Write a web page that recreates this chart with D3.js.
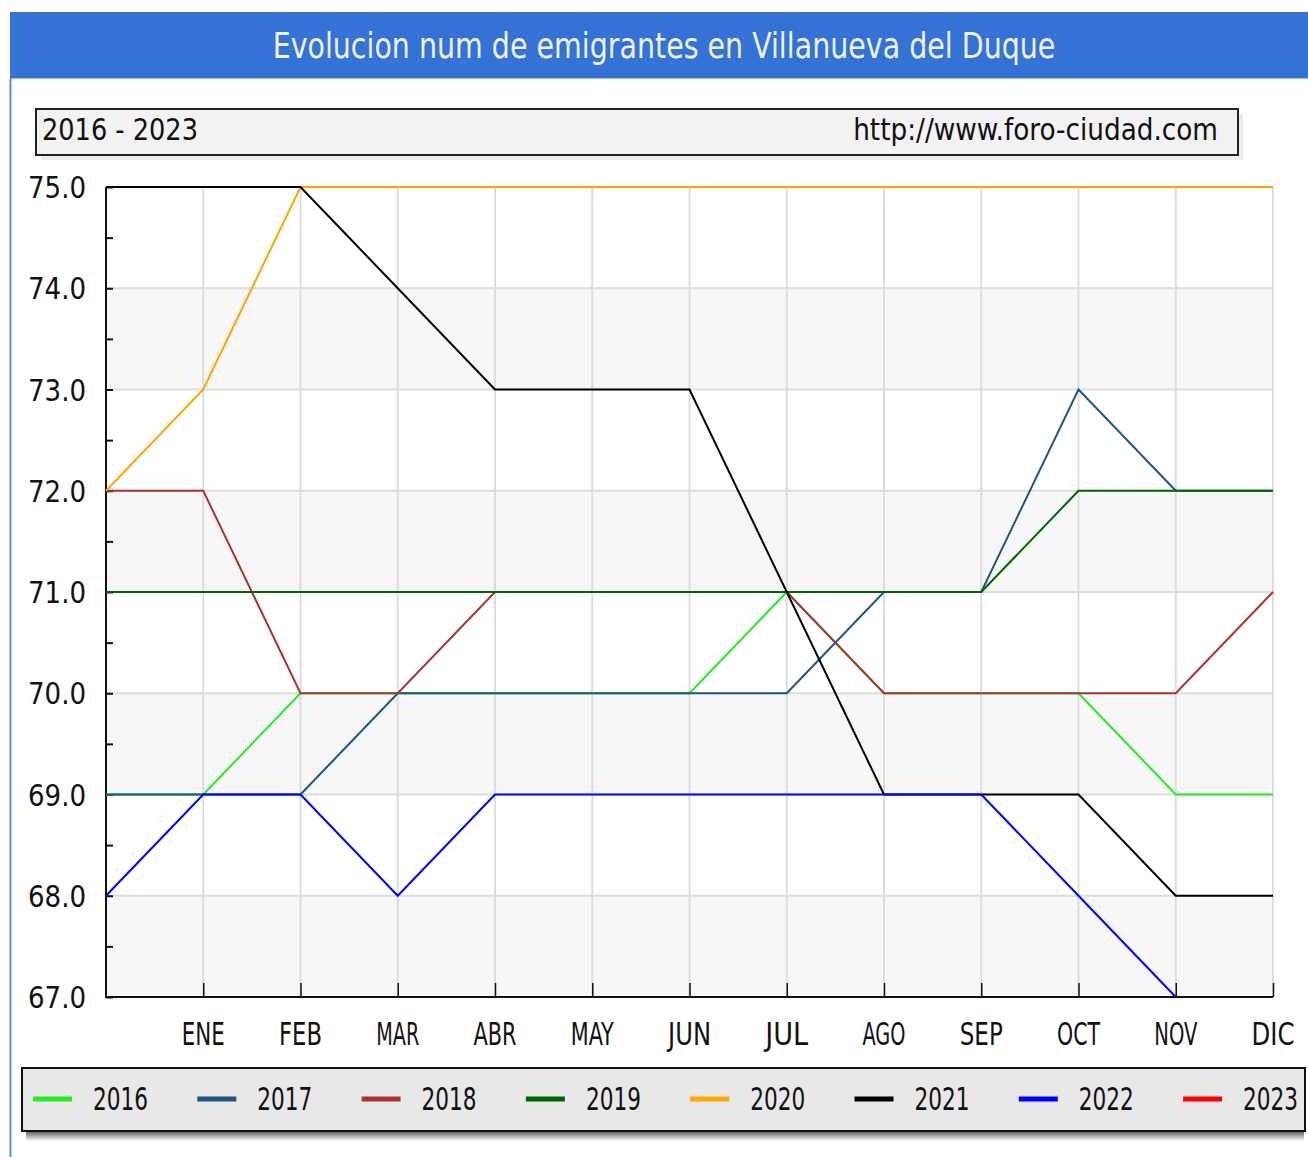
<!DOCTYPE html>
<html>
<head>
<meta charset="utf-8">
<script src="https://cdn.jsdelivr.net/npm/d3@7.9.0/dist/d3.min.js"></script>
<style>
  body { margin: 0; background: #fff; }
  svg { display: block; }
</style>
</head>
<body>
<div id="chart"></div>
<script>
const months = ["", "ENE", "FEB", "MAR", "ABR", "MAY", "JUN", "JUL", "AGO", "SEP", "OCT", "NOV", "DIC"];
const years = ["2016", "2017", "2018", "2019", "2020", "2021", "2022", "2023"];
const colors = ["#22ee22", "#1f557f", "#aa3333", "#006600", "#ffa500", "#000000", "#0000ff", "#ff0000"];

const v2016 = [69, 69, 70, 70, 70, 70, 70, 71, 70, 70, 70, 69, 69];
const v2017 = [69, 69, 69, 70, 70, 70, 70, 70, 71, 71, 73, 72, 72];
const v2018 = [72, 72, 70, 70, 71, 71, 71, 71, 70, 70, 70, 70, 71];
const v2019 = [71, 71, 71, 71, 71, 71, 71, 71, 71, 71, 72, 72, 72];
const v2020 = [72, 73, 75, 75, 75, 75, 75, 75, 75, 75, 75, 75, 75];
const v2021 = [75, 75, 75, 74, 73, 73, 73, 71, 69, 69, 69, 68, 68];
const v2022 = [68, 69, 69, 68, 69, 69, 69, 69, 69, 69, 68, 67];
const v2023 = [];
const series = [v2016, v2017, v2018, v2019, v2020, v2021, v2022, v2023];

const yTicks = [67, 68, 69, 70, 71, 72, 73, 74, 75];

const width = 1308, height = 1157;
const plot = { left: 106, right: 1273, top: 187, bottom: 997 };
const sans = "'DejaVu Sans Condensed', 'DejaVu Sans', sans-serif";

const svg = d3.select("#chart").append("svg")
  .attr("width", width).attr("height", height);

// squeeze text horizontally to a measured width, keeps the tall narrow look of the original
function label(g, txt, x, y, size, len, anchor = "start", fill = "#111") {
  const t = g.append("text")
    .attr("font-family", sans).attr("font-size", size)
    .attr("text-anchor", anchor).attr("fill", fill)
    .text(txt);
  const natural = t.node().getComputedTextLength();
  t.attr("transform", `translate(${x},${y}) scale(${len / natural},1)`);
  return t;
}

// title bar
svg.append("rect").attr("x", 10).attr("y", 12).attr("width", 1298).attr("height", 66).attr("fill", "#3572d6");
svg.append("line").attr("x1", 10).attr("x2", 1308).attr("y1", 78.5).attr("y2", 78.5).attr("stroke", "#9dbbe8");
svg.append("line").attr("x1", 10.5).attr("x2", 10.5).attr("y1", 78).attr("y2", height).attr("stroke", "#5d8ee0").attr("stroke-width", 2);
label(svg, "Evolucion num de emigrantes en Villanueva del Duque", 664, 58, 36, 783, "middle", "#eef3fc");

// subtitle box
svg.append("rect").attr("x", 41).attr("y", 114).attr("width", 1202).attr("height", 46).attr("fill", "#ececec");
svg.append("rect").attr("x", 36).attr("y", 109).attr("width", 1202).attr("height", 46)
  .attr("fill", "#f2f2f2").attr("stroke", "#222").attr("stroke-width", 2);
label(svg, "2016 - 2023", 42, 140, 30, 156);
label(svg, "http://www.foro-ciudad.com", 1218, 140, 30, 365, "end");

const x = d3.scaleLinear().domain([0, 12]).range([plot.left, plot.right]);
const y = d3.scaleLinear().domain([67, 75]).range([plot.bottom, plot.top]);

// alternating bands
const bands = svg.append("g");
for (let i = 0; i < yTicks.length - 1; i++) {
  bands.append("rect")
    .attr("x", plot.left).attr("width", plot.right - plot.left)
    .attr("y", y(yTicks[i + 1])).attr("height", y(yTicks[i]) - y(yTicks[i + 1]))
    .attr("fill", i % 2 === 0 ? "#f7f7f7" : "#ffffff");
}

// grid
const grid = svg.append("g").attr("stroke", "#dddddd").attr("stroke-width", 2);
grid.selectAll(".h").data(yTicks.slice(1, -1)).join("line")
  .attr("x1", plot.left).attr("x2", plot.right)
  .attr("y1", (d) => y(d)).attr("y2", (d) => y(d));
grid.selectAll(".v").data(d3.range(1, 13)).join("line")
  .attr("x1", (d) => x(d)).attr("x2", (d) => x(d))
  .attr("y1", plot.top).attr("y2", plot.bottom);

// axes
const yAxis = d3.axisLeft(y).tickValues(yTicks).tickSize(-7).tickFormat("");
const yMinor = d3.axisLeft(y).tickValues(d3.range(67.5, 75, 1)).tickSize(-7).tickFormat("");
const xAxis = d3.axisBottom(x).tickValues(d3.range(1, 13)).tickSize(-14).tickFormat("");

svg.append("g").attr("transform", `translate(${plot.left},0)`).call(yAxis)
  .call((g) => g.select(".domain").remove())
  .selectAll("line").attr("stroke", "#111").attr("stroke-width", 2);
svg.append("g").attr("transform", `translate(${plot.left},0)`).call(yMinor)
  .call((g) => g.select(".domain").remove())
  .selectAll("line").attr("stroke", "#111").attr("stroke-width", 2);
svg.append("g").attr("transform", `translate(0,${plot.bottom})`).call(xAxis)
  .call((g) => g.select(".domain").remove())
  .selectAll("line").attr("stroke", "#111").attr("stroke-width", 1.5);

// axis frame (left and bottom only)
svg.append("path")
  .attr("d", `M${plot.left},${plot.top}V${plot.bottom}H${plot.right}`)
  .attr("fill", "none").attr("stroke", "#111").attr("stroke-width", 2);

// series lines
const line = d3.line().x((d, i) => x(i)).y((d) => y(d));
svg.append("g").selectAll("path").data(series).join("path")
  .attr("d", (d) => (d.length ? line(d) : null))
  .attr("fill", "none")
  .attr("stroke", (d, i) => colors[i])
  .attr("stroke-width", 2);

// tick labels
const yl = svg.append("g");
yTicks.forEach((t) => label(yl, d3.format(".1f")(t), 86, y(t) + 11, 30, 58, "end"));
const xl = svg.append("g");
months.forEach((m, i) => { if (m) label(xl, m, x(i), 1045, 32, 43, "middle"); });

// legend
const grad = svg.append("defs").append("linearGradient").attr("id", "shadow")
  .attr("x1", 0).attr("x2", 0).attr("y1", 0).attr("y2", 1);
grad.append("stop").attr("offset", 0).attr("stop-color", "#555");
grad.append("stop").attr("offset", 1).attr("stop-color", "#fff");
svg.append("rect").attr("x", 26).attr("y", 1131).attr("width", 1278).attr("height", 10).attr("fill", "url(#shadow)");
svg.append("rect").attr("x", 22).attr("y", 1068).attr("width", 1283).attr("height", 63)
  .attr("fill", "#e8e8e8").attr("stroke", "#111").attr("stroke-width", 2);

const legend = svg.append("g");
years.forEach((yr, i) => {
  const lx = 33 + i * 164.3;
  legend.append("line").attr("x1", lx).attr("x2", lx + 39).attr("y1", 1099).attr("y2", 1099)
    .attr("stroke", colors[i]).attr("stroke-width", 5);
  label(legend, yr, lx + 60, 1110, 32, 55);
});
</script>
</body>
</html>
